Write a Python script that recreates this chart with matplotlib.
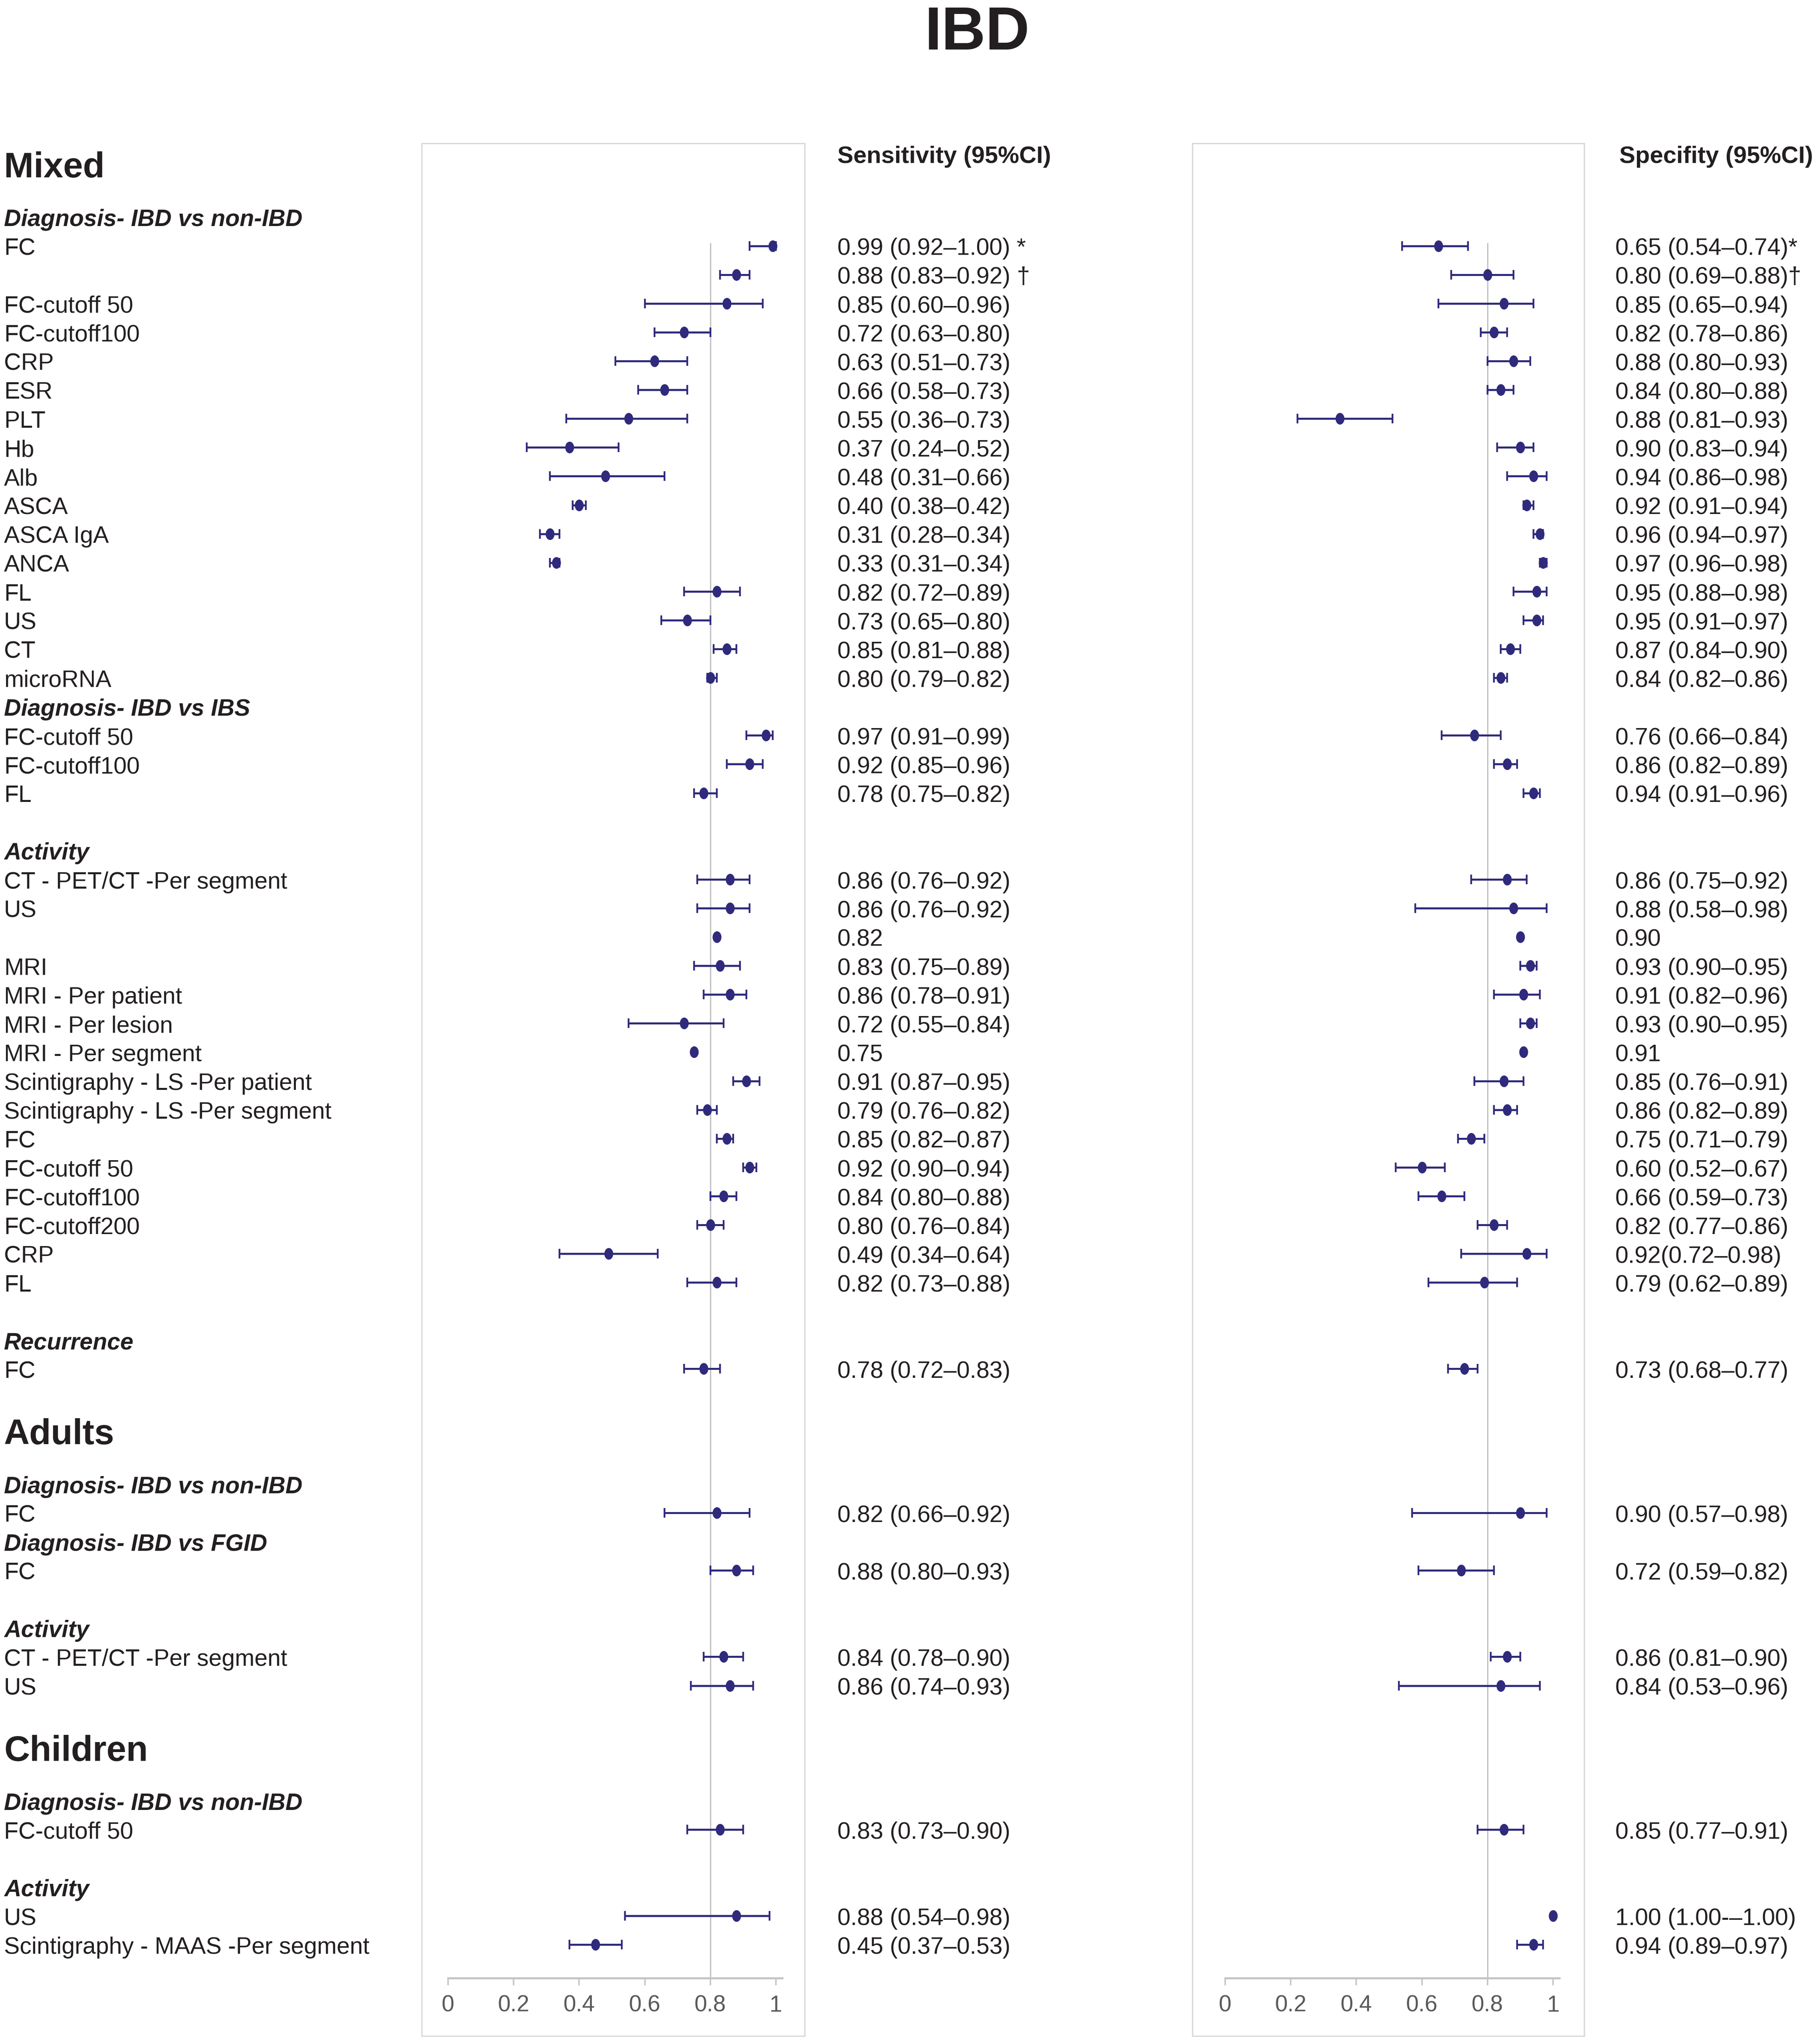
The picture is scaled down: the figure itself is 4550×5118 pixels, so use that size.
import matplotlib
matplotlib.use('Agg')
import matplotlib.pyplot as plt
import numpy as np
from matplotlib.path import Path
from matplotlib.transforms import blended_transform_factory
from matplotlib.patches import Rectangle

plt.rcParams['font.family'] = ['Liberation Sans', 'DejaVu Sans']

# ---------------- data ----------------
nan = np.nan

# (section header, group header, number of items, blank line before group)
groups = [
    ('Mixed', 'Diagnosis- IBD vs non-IBD', 16, False),
    (None, 'Diagnosis- IBD vs IBS', 3, False),
    (None, 'Activity', 15, True),
    (None, 'Recurrence', 1, True),
    ('Adults', 'Diagnosis- IBD vs non-IBD', 1, False),
    (None, 'Diagnosis- IBD vs FGID', 1, False),
    (None, 'Activity', 2, True),
    ('Children', 'Diagnosis- IBD vs non-IBD', 1, False),
    (None, 'Activity', 2, True),
]

item_labels = [
    'FC', '', 'FC-cutoff 50', 'FC-cutoff100', 'CRP', 'ESR', 'PLT', 'Hb', 'Alb',
    'ASCA', 'ASCA IgA', 'ANCA', 'FL', 'US', 'CT', 'microRNA',
    'FC-cutoff 50', 'FC-cutoff100', 'FL',
    'CT - PET/CT -Per segment', 'US', '', 'MRI', 'MRI - Per patient',
    'MRI - Per lesion', 'MRI - Per segment', 'Scintigraphy - LS -Per patient',
    'Scintigraphy - LS -Per segment', 'FC', 'FC-cutoff 50', 'FC-cutoff100',
    'FC-cutoff200', 'CRP', 'FL',
    'FC',
    'FC',
    'FC',
    'CT - PET/CT -Per segment', 'US',
    'FC-cutoff 50',
    'US', 'Scintigraphy - MAAS -Per segment',
]

sens_est = np.array([0.99, 0.88, 0.85, 0.72, 0.63, 0.66, 0.55, 0.37, 0.48,
                     0.40, 0.31, 0.33, 0.82, 0.73, 0.85, 0.80,
                     0.97, 0.92, 0.78,
                     0.86, 0.86, 0.82, 0.83, 0.86, 0.72, 0.75, 0.91, 0.79,
                     0.85, 0.92, 0.84, 0.80, 0.49, 0.82,
                     0.78,
                     0.82,
                     0.88,
                     0.84, 0.86,
                     0.83,
                     0.88, 0.45])
sens_lo = np.array([0.92, 0.83, 0.60, 0.63, 0.51, 0.58, 0.36, 0.24, 0.31,
                    0.38, 0.28, 0.31, 0.72, 0.65, 0.81, 0.79,
                    0.91, 0.85, 0.75,
                    0.76, 0.76, nan, 0.75, 0.78, 0.55, nan, 0.87, 0.76,
                    0.82, 0.90, 0.80, 0.76, 0.34, 0.73,
                    0.72,
                    0.66,
                    0.80,
                    0.78, 0.74,
                    0.73,
                    0.54, 0.37])
sens_hi = np.array([1.00, 0.92, 0.96, 0.80, 0.73, 0.73, 0.73, 0.52, 0.66,
                    0.42, 0.34, 0.34, 0.89, 0.80, 0.88, 0.82,
                    0.99, 0.96, 0.82,
                    0.92, 0.92, nan, 0.89, 0.91, 0.84, nan, 0.95, 0.82,
                    0.87, 0.94, 0.88, 0.84, 0.64, 0.88,
                    0.83,
                    0.92,
                    0.93,
                    0.90, 0.93,
                    0.90,
                    0.98, 0.53])

spec_est = np.array([0.65, 0.80, 0.85, 0.82, 0.88, 0.84, 0.35, 0.90, 0.94,
                     0.92, 0.96, 0.97, 0.95, 0.95, 0.87, 0.84,
                     0.76, 0.86, 0.94,
                     0.86, 0.88, 0.90, 0.93, 0.91, 0.93, 0.91, 0.85, 0.86,
                     0.75, 0.60, 0.66, 0.82, 0.92, 0.79,
                     0.73,
                     0.90,
                     0.72,
                     0.86, 0.84,
                     0.85,
                     1.00, 0.94])
spec_lo = np.array([0.54, 0.69, 0.65, 0.78, 0.80, 0.80, 0.22, 0.83, 0.86,
                    0.91, 0.94, 0.96, 0.88, 0.91, 0.84, 0.82,
                    0.66, 0.82, 0.91,
                    0.75, 0.58, nan, 0.90, 0.82, 0.90, nan, 0.76, 0.82,
                    0.71, 0.52, 0.59, 0.77, 0.72, 0.62,
                    0.68,
                    0.57,
                    0.59,
                    0.81, 0.53,
                    0.77,
                    1.00, 0.89])
spec_hi = np.array([0.74, 0.88, 0.94, 0.86, 0.93, 0.88, 0.51, 0.94, 0.98,
                    0.94, 0.97, 0.98, 0.98, 0.97, 0.90, 0.86,
                    0.84, 0.89, 0.96,
                    0.92, 0.98, nan, 0.95, 0.96, 0.95, nan, 0.91, 0.89,
                    0.79, 0.67, 0.73, 0.86, 0.98, 0.89,
                    0.77,
                    0.98,
                    0.82,
                    0.90, 0.96,
                    0.91,
                    1.00, 0.97])

sens_text = [
    '0.99 (0.92\u20131.00) *', '0.88 (0.83\u20130.92) \u2020',
    '0.85 (0.60\u20130.96)', '0.72 (0.63\u20130.80)', '0.63 (0.51\u20130.73)',
    '0.66 (0.58\u20130.73)', '0.55 (0.36\u20130.73)', '0.37 (0.24\u20130.52)',
    '0.48 (0.31\u20130.66)', '0.40 (0.38\u20130.42)', '0.31 (0.28\u20130.34)',
    '0.33 (0.31\u20130.34)', '0.82 (0.72\u20130.89)', '0.73 (0.65\u20130.80)',
    '0.85 (0.81\u20130.88)', '0.80 (0.79\u20130.82)',
    '0.97 (0.91\u20130.99)', '0.92 (0.85\u20130.96)', '0.78 (0.75\u20130.82)',
    '0.86 (0.76\u20130.92)', '0.86 (0.76\u20130.92)', '0.82',
    '0.83 (0.75\u20130.89)', '0.86 (0.78\u20130.91)', '0.72 (0.55\u20130.84)',
    '0.75', '0.91 (0.87\u20130.95)', '0.79 (0.76\u20130.82)',
    '0.85 (0.82\u20130.87)', '0.92 (0.90\u20130.94)', '0.84 (0.80\u20130.88)',
    '0.80 (0.76\u20130.84)', '0.49 (0.34\u20130.64)', '0.82 (0.73\u20130.88)',
    '0.78 (0.72\u20130.83)',
    '0.82 (0.66\u20130.92)',
    '0.88 (0.80\u20130.93)',
    '0.84 (0.78\u20130.90)', '0.86 (0.74\u20130.93)',
    '0.83 (0.73\u20130.90)',
    '0.88 (0.54\u20130.98)', '0.45 (0.37\u20130.53)',
]
spec_text = [
    '0.65 (0.54\u20130.74)*', '0.80 (0.69\u20130.88)\u2020',
    '0.85 (0.65\u20130.94)', '0.82 (0.78\u20130.86)', '0.88 (0.80\u20130.93)',
    '0.84 (0.80\u20130.88)', '0.88 (0.81\u20130.93)', '0.90 (0.83\u20130.94)',
    '0.94 (0.86\u20130.98)', '0.92 (0.91\u20130.94)', '0.96 (0.94\u20130.97)',
    '0.97 (0.96\u20130.98)', '0.95 (0.88\u20130.98)', '0.95 (0.91\u20130.97)',
    '0.87 (0.84\u20130.90)', '0.84 (0.82\u20130.86)',
    '0.76 (0.66\u20130.84)', '0.86 (0.82\u20130.89)', '0.94 (0.91\u20130.96)',
    '0.86 (0.75\u20130.92)', '0.88 (0.58\u20130.98)', '0.90',
    '0.93 (0.90\u20130.95)', '0.91 (0.82\u20130.96)', '0.93 (0.90\u20130.95)',
    '0.91', '0.85 (0.76\u20130.91)', '0.86 (0.82\u20130.89)',
    '0.75 (0.71\u20130.79)', '0.60 (0.52\u20130.67)', '0.66 (0.59\u20130.73)',
    '0.82 (0.77\u20130.86)', '0.92(0.72\u20130.98)', '0.79 (0.62\u20130.89)',
    '0.73 (0.68\u20130.77)',
    '0.90 (0.57\u20130.98)',
    '0.72 (0.59\u20130.82)',
    '0.86 (0.81\u20130.90)', '0.84 (0.53\u20130.96)',
    '0.85 (0.77\u20130.91)',
    '1.00 (1.00-\u20131.00)', '0.94 (0.89\u20130.97)',
]

x_ticks = [0, 0.2, 0.4, 0.6, 0.8, 1.0]
x_ticklabels = ['0', '0.2', '0.4', '0.6', '0.8', '1']
ref_value = 0.8

# ---------------- layout ----------------
W, H, DPI = 4550, 5118, 100
TXT = '#231f20'
MARK = '#2f2a7c'
GRID = '#c4c4c4'
FRAME = '#d9d9d9'

fig = plt.figure(figsize=(W / DPI, H / DPI), dpi=DPI)
fig.patch.set_facecolor('white')

# row positions
sec_rows, grp_rows, item_rows = [], [], []
cursor = -2.8
first = True
for sec, grp, n, gap in groups:
    if sec is not None:
        if not first:
            cursor += 1.2
        sec_rows.append((sec, cursor))
        cursor += 1.8
    first = False
    if gap:
        cursor += 1
    grp_rows.append((grp, cursor))
    cursor += 1
    for _ in range(n):
        item_rows.append(cursor)
        cursor += 1
item_rows = np.array(item_rows)

axis_row = 60.16
y_top, y_bot = -3.56, 62.17
txt_dy = 0.1   # visual centring of glyphs on the row

axL = fig.add_axes([1056 / W, 1 - 5098 / H, 959 / W, (5098 - 359) / H])
axR = fig.add_axes([2986 / W, 1 - 5098 / H, 981 / W, (5098 - 359) / H])

circ = Path.unit_circle()
ellipse = Path(circ.vertices * np.array([0.76, 1.0]), circ.codes)


def forest(ax, est, lo, hi, xlim):
    ax.set_xlim(*xlim)
    ax.set_ylim(y_bot, y_top)
    ax.set_facecolor('none')
    for s in ('left', 'right', 'top'):
        ax.spines[s].set_visible(False)
    ax.spines['bottom'].set_position(('data', axis_row))
    ax.spines['bottom'].set_bounds(0, 1.02)
    ax.spines['bottom'].set_color(GRID)
    ax.spines['bottom'].set_linewidth(3.6)
    ax.yaxis.set_visible(False)
    ax.set_xticks(x_ticks)
    ax.set_xticklabels(x_ticklabels)
    ax.tick_params(axis='x', direction='out', length=13, width=2.6,
                   color=GRID, labelcolor='#595959', labelsize=41, pad=17)
    ax.add_patch(Rectangle((0, 0), 1, 1, transform=ax.transAxes, fill=False,
                           ec=FRAME, lw=2.4, clip_on=False))
    ax.vlines(ref_value, -0.1, axis_row, color='#bfbfbf', lw=2.2, zorder=1)
    m = ~np.isnan(lo)
    ax.errorbar(est[m], item_rows[m], xerr=[est[m] - lo[m], hi[m] - est[m]],
                fmt='none', ecolor=MARK, elinewidth=3.6, capsize=8.5,
                capthick=3.2, zorder=2)
    ax.plot(est, item_rows, ls='none', marker=ellipse, ms=21, color=MARK,
            mec=MARK, mew=0, zorder=3)


forest(axL, sens_est, sens_lo, sens_hi, (-0.0804, 1.0877))
forest(axR, spec_est, spec_lo, spec_hi, (-0.0999, 1.095))

trans = blended_transform_factory(fig.transFigure, axL.transData)
FS = 42.5
x_lab = 10 / W
x_sens = 2097 / W
x_spec = 4045 / W

for name, y in sec_rows:
    fig.text(x_lab, y + txt_dy, name, transform=trans, fontsize=64,
             fontweight='bold', color=TXT, va='center', ha='left')
for name, y in grp_rows:
    fig.text(x_lab, y + txt_dy, name, transform=trans, fontsize=FS,
             fontweight='bold', fontstyle='italic', color=TXT,
             va='center', ha='left')
for lab, st, pt, y in zip(item_labels, sens_text, spec_text, item_rows):
    fig.text(x_lab, y + txt_dy, lab, transform=trans, fontsize=FS, color=TXT,
             va='center', ha='left')
    fig.text(x_sens, y + txt_dy, st, transform=trans, fontsize=FS, color=TXT,
             va='center', ha='left')
    fig.text(x_spec, y + txt_dy, pt, transform=trans, fontsize=FS, color=TXT,
             va='center', ha='left')

fig.text(x_sens, -3.2 + txt_dy, 'Sensitivity (95%CI)', transform=trans,
         fontsize=43, fontweight='bold', color=TXT, va='center', ha='left')
fig.text(4055 / W, -3.2 + txt_dy, 'Specifity (95%CI)', transform=trans,
         fontsize=43, fontweight='bold', color=TXT, va='center', ha='left')

fig.text(2447 / W, 1 - 124 / H, 'IBD', fontsize=110, fontweight='bold',
         color=TXT, va='baseline', ha='center')

fig.savefig('out.png', dpi=DPI, facecolor='white')
